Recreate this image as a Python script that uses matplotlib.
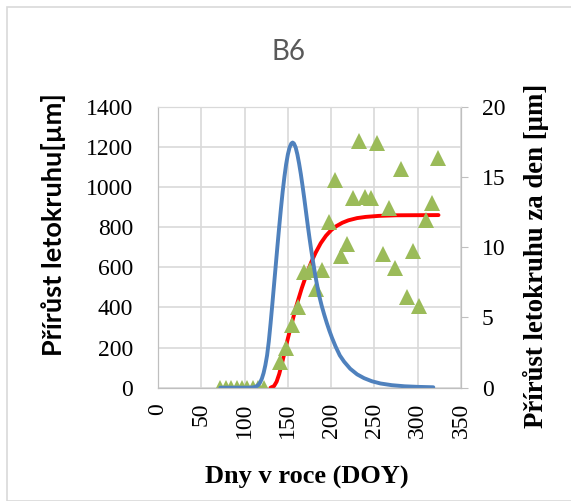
import numpy as np
import matplotlib.pyplot as plt
from matplotlib.patches import Rectangle

# measured cumulative ring growth (triangles), left axis
doy_meas = [72, 78, 84, 91, 97, 103, 110, 116, 123,
            141, 148, 155, 162, 169, 176, 183, 190, 197, 204,
            211, 218, 225, 232, 239, 246, 253, 260, 267, 274,
            281, 288, 295, 302, 309, 316, 323]
growth_meas = [0, 0, 0, 0, 0, 0, 0, 0, 0,
               130, 198, 312, 404, 578, 588, 490, 588, 824, 1035,
               655, 715, 947, 1231, 952, 947, 1221, 668, 894, 595,
               1088, 450, 683, 405, 837, 918, 1143]

# fitted cumulative curve (red), left axis
doy_fit = [130, 134, 137, 140, 143, 146, 150, 155, 160, 166, 172, 177,
           182, 188, 194, 200, 206, 213, 220, 230, 240, 255, 275, 324]
growth_fit = [0, 8, 30, 68, 118, 172, 245, 329, 410, 495, 570, 625,
              672, 720, 757, 785, 805, 822, 834, 845, 851, 856, 859, 860]

# fitted daily growth (blue), right axis
doy_rate = [72, 105, 110, 113, 116, 118, 120, 122, 124, 126, 128, 130, 132,
            134, 136, 138, 140, 142, 144, 146, 148, 150, 152, 154, 155.5,
            157, 159, 161, 163, 165, 167, 169, 171, 173, 175, 177, 179, 181,
            183, 186, 189, 192, 195, 198, 201, 205, 210, 215, 222, 230, 238,
            247, 257, 270, 285, 300, 318]
rate_fit = [0, 0, 0.02, 0.07, 0.2, 0.38, 0.65, 1.05, 1.6, 2.3, 3.3, 4.55, 5.9,
            7.3, 8.7, 10.1, 11.45, 12.75, 13.95, 15.0, 15.9, 16.6, 17.1, 17.38, 17.45,
            17.38, 17.1, 16.6, 15.95, 15.2, 14.35, 13.45, 12.5, 11.55, 10.65, 9.8, 9.0, 8.25,
            7.55, 6.6, 5.85, 5.2, 4.6, 4.05, 3.55, 2.95, 2.3, 1.85, 1.35, 0.95, 0.68,
            0.46, 0.3, 0.18, 0.1, 0.06, 0.03]

serif = 'Liberation Serif'
sans = 'Lato'

fig = plt.figure(figsize=(5.71, 5.01), dpi=100)
fig.patches.append(Rectangle((7 / 571, 0), 1, 1 - 7 / 501, transform=fig.transFigure,
                             fill=False, edgecolor='#d9d9d9', linewidth=1.2))

ax = fig.add_axes([158 / 571, 1 - 387.7 / 501, 303 / 571, 281 / 501])
ax2 = ax.twinx()

ax.plot(doy_fit, growth_fit, color='#ff0000', linewidth=2.8, zorder=2,
        solid_capstyle='round', solid_joinstyle='round')
ax.plot(doy_meas, growth_meas, linestyle='none', marker='^', markersize=11,
        color='#9bbb59', markeredgewidth=0, zorder=3)
ax2.plot(doy_rate, rate_fit, color='#4f81bd', linewidth=2.8,
         solid_capstyle='round', solid_joinstyle='round')

ax.set_xlim(0, 350)
ax.set_ylim(0, 1400)
ax2.set_ylim(0, 20)
ax.set_xticks(np.arange(0, 351, 50))
ax.set_yticks(np.arange(0, 1401, 200))
ax2.set_yticks(np.arange(0, 21, 5))

ax.grid(True, color='#d9d9d9', linewidth=1.2)
ax.set_axisbelow(True)

for a in (ax, ax2):
    for s in a.spines.values():
        s.set_color('#d9d9d9')
    a.spines['bottom'].set_color('#bfbfbf')
    a.spines['left'].set_color('#bfbfbf')
    a.spines['right'].set_color('#bfbfbf')

ax.tick_params(axis='y', length=0, pad=18, labelsize=17)
ax.tick_params(axis='x', length=0, pad=11, labelsize=17, labelrotation=90)
ax2.tick_params(axis='y', length=5, color='#bfbfbf', pad=10, labelsize=17)
for lab in ax.get_xticklabels() + ax.get_yticklabels() + ax2.get_yticklabels():
    lab.set_fontfamily(serif)

ax.set_xlabel('Dny v roce (DOY)', fontsize=19, fontweight='bold', family=serif)
ax.xaxis.set_label_coords(0.49, -0.278)
ax.set_ylabel('Přírůst letokruhu[µm]', fontsize=19.5, fontweight='bold', family=sans)
ax.yaxis.set_label_coords(-0.305, 0.58)
ax2.set_ylabel('Přírůst letokruhu za den [µm]', fontsize=19.3, fontweight='bold',
               family=serif, rotation=90)
ax2.yaxis.set_label_coords(1.205, 0.47)

fig.text(289 / 571, 1 - 52 / 501, 'B6', fontsize=20, color='#595959',
         family=sans, ha='center', va='center')

fig.savefig('out.png', dpi=100)
